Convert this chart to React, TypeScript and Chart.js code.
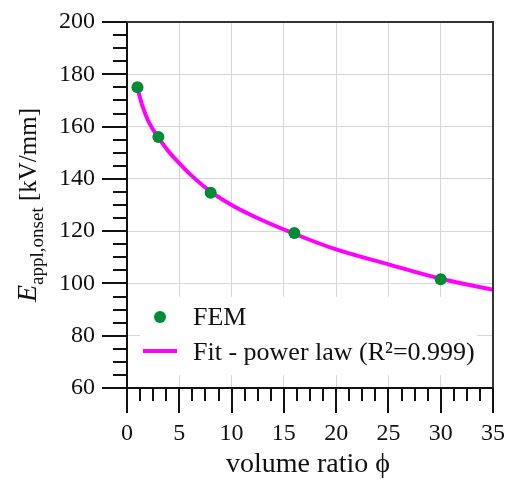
import React, { useEffect, useRef } from 'react';
import { Chart, registerables } from 'chart.js';

Chart.register(...registerables);

// FEM simulation results
const femX = [1, 3, 8, 16, 30];
const femY = [175, 156, 134.7, 119.3, 101.6];

// Power-law fit curve
const fitX = [1, 1.25, 1.5, 2, 2.5, 3, 4, 5, 6, 8, 10, 12, 16, 20, 25, 30, 35];
const fitY = [175, 170.9, 167.6, 162.4, 158.8, 155.8, 150.4, 146.0, 141.9, 135.1, 130.0, 125.9, 119.0, 113.0, 107.3, 101.8, 97.6];

const xTicks = [0, 5, 10, 15, 20, 25, 30, 35];
const yTicks = [60, 80, 100, 120, 140, 160, 180, 200];

const legendLabels = ['FEM', 'Fit - power law (R\u00B2=0.999)'];
const xTitle = 'volume ratio \u03D5';
const yTitleMain = 'E';
const yTitleSub = 'appl,onset';
const yTitleUnit = ' [kV/mm]';

const SERIF = "'Liberation Serif', 'Times New Roman', serif";
const GREEN = '#008c32';
const MAGENTA = '#ff00ff';

const decorPlugin = {
  id: 'decor',
  afterDraw(chart: any) {
    const { ctx, chartArea } = chart;
    const xs = chart.scales.x;
    const ys = chart.scales.y;
    const { left, right, top, bottom } = chartArea;
    ctx.save();

    // legend box
    const lx = left + 13;
    const ly = top + 275;
    ctx.fillStyle = '#ffffff';
    ctx.fillRect(lx, ly, 337, 78);
    ctx.fillStyle = GREEN;
    ctx.beginPath();
    ctx.arc(lx + 20, ly + 20, 6, 0, Math.PI * 2);
    ctx.fill();
    ctx.strokeStyle = MAGENTA;
    ctx.lineWidth = 4;
    ctx.beginPath();
    ctx.moveTo(lx + 3, ly + 54);
    ctx.lineTo(lx + 37, ly + 54);
    ctx.stroke();
    ctx.fillStyle = '#111';
    ctx.font = `26px ${SERIF}`;
    ctx.textAlign = 'left';
    ctx.textBaseline = 'alphabetic';
    ctx.fillText(legendLabels[0], lx + 53, ly + 28);
    ctx.fillText(legendLabels[1], lx + 53, ly + 63);

    // top & right frame
    ctx.strokeStyle = '#333';
    ctx.lineWidth = 2;
    ctx.beginPath();
    ctx.moveTo(left - 1, top);
    ctx.lineTo(right, top);
    ctx.lineTo(right, bottom);
    ctx.stroke();

    // ticks
    ctx.strokeStyle = '#111';
    ctx.lineWidth = 2;
    ctx.beginPath();
    for (let v = 0; v <= 35.001; v += 1.25) {
      const px = Math.round(xs.getPixelForValue(v));
      const major = Math.abs(v / 5 - Math.round(v / 5)) < 1e-6;
      ctx.moveTo(px, bottom);
      ctx.lineTo(px, bottom + (major ? 25 : 13));
    }
    for (let v = 60; v <= 200.001; v += 5) {
      const py = Math.round(ys.getPixelForValue(v));
      const major = v % 20 === 0;
      ctx.moveTo(left, py);
      ctx.lineTo(left - (major ? 25 : 14), py);
    }
    ctx.stroke();

    // x title
    ctx.fillStyle = '#111';
    ctx.font = `28px ${SERIF}`;
    ctx.textAlign = 'center';
    ctx.fillText(xTitle, (left + right) / 2 - 2, 472);

    // y title (rotated, with subscript)
    const mainFont = `italic 28px ${SERIF}`;
    const subFont = `19px ${SERIF}`;
    const unitFont = `25px ${SERIF}`;
    ctx.font = mainFont;
    const w1 = ctx.measureText(yTitleMain).width;
    ctx.font = subFont;
    const w2 = ctx.measureText(yTitleSub).width;
    ctx.font = unitFont;
    const w3 = ctx.measureText(yTitleUnit).width;
    const total = w1 + w2 + w3;
    const cy = (top + bottom) / 2;
    ctx.translate(36, cy);
    ctx.rotate(-Math.PI / 2);
    ctx.textAlign = 'left';
    let x0 = -total / 2;
    ctx.font = mainFont;
    ctx.fillText(yTitleMain, x0, 0);
    x0 += w1;
    ctx.font = subFont;
    ctx.fillText(yTitleSub, x0, 7);
    x0 += w2;
    ctx.font = unitFont;
    ctx.fillText(yTitleUnit, x0, 0);
    ctx.restore();
  },
};

export default function App() {
  const ref = useRef<HTMLCanvasElement>(null);
  useEffect(() => {
    if (!ref.current) return;
    const chart = new Chart(ref.current, {
      type: 'scatter',
      data: {
        datasets: [
          {
            label: legendLabels[0],
            data: femX.map((x, i) => ({ x, y: femY[i] })),
            backgroundColor: GREEN,
            borderColor: GREEN,
            pointRadius: 6,
            pointBorderWidth: 0,
            showLine: false,
          },
          {
            label: legendLabels[1],
            data: fitX.map((x, i) => ({ x, y: fitY[i] })),
            borderColor: MAGENTA,
            backgroundColor: MAGENTA,
            borderWidth: 4,
            pointRadius: 0,
            showLine: true,
            cubicInterpolationMode: 'monotone',
          } as any,
        ],
      },
      options: {
        responsive: false,
        animation: false,
        events: [],
        layout: { padding: { left: 0, top: 22, right: 14, bottom: 0 } },
        plugins: { legend: { display: false }, tooltip: { enabled: false } },
        scales: {
          x: {
            type: 'linear',
            min: 0,
            max: 35,
            afterBuildTicks: (s: any) => {
              s.ticks = xTicks.map((v) => ({ value: v }));
            },
            afterFit: (s: any) => {
              s.height = 97;
              s.paddingLeft = 0;
              s.paddingRight = 0;
            },
            ticks: {
              font: { family: SERIF, size: 24 },
              color: '#111',
              padding: 31,
              maxRotation: 0,
            },
            grid: { color: '#d6d6d6', lineWidth: 1, drawTicks: false },
            border: { display: true, color: '#111', width: 2 },
          },
          y: {
            type: 'linear',
            min: 60,
            max: 200,
            afterBuildTicks: (s: any) => {
              s.ticks = yTicks.map((v) => ({ value: v }));
            },
            afterFit: (s: any) => {
              s.width = 127;
              s.paddingTop = 0;
              s.paddingBottom = 0;
            },
            ticks: {
              font: { family: SERIF, size: 24 },
              color: '#111',
              padding: 32,
            },
            grid: { color: '#d6d6d6', lineWidth: 1, drawTicks: false },
            border: { display: true, color: '#111', width: 2 },
          },
        },
      },
      plugins: [decorPlugin],
    });
    return () => chart.destroy();
  }, []);
  return (
    <>
      <style>{'body{margin:0;}'}</style>
      <canvas ref={ref} width={507} height={485} style={{ display: 'block' }} />
    </>
  );
}
